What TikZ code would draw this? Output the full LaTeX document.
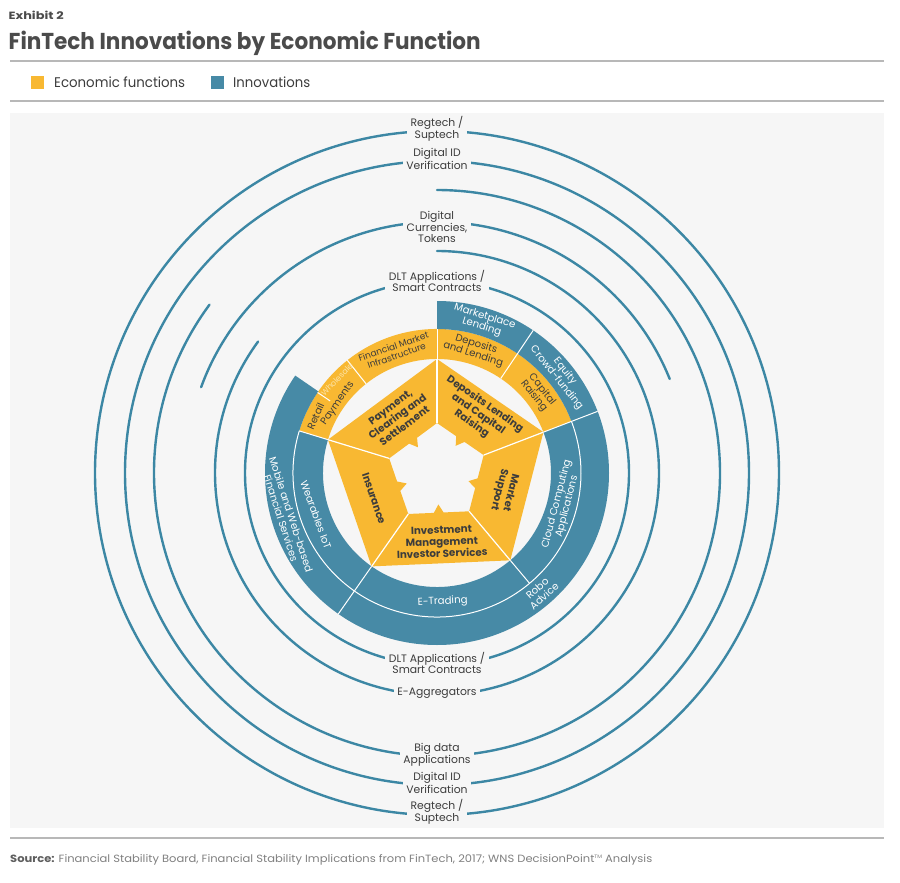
\documentclass[tikz,border=0pt]{standalone}
\usepackage{fontspec}
\usepackage{graphicx}
\setmainfont{Poppins}
\definecolor{fyellow}{HTML}{F8B832}
\definecolor{fblue}{HTML}{478AA6}
\definecolor{arcblue}{HTML}{3C87A4}
\definecolor{bggray}{HTML}{F6F6F6}
\definecolor{rulegray}{HTML}{B8B8B8}
\definecolor{txtdark}{HTML}{3C3C3C}
\definecolor{titlegray}{HTML}{4B4B4B}
\definecolor{srcgray}{HTML}{808080}
\definecolor{srcdark}{HTML}{5E5E5E}
\definecolor{palecream}{HTML}{FBE3A6}
\tikzset{
  arcline/.style={draw=arcblue, line width=2.4pt, line cap=round},
  arclabel/.style={fill=bggray, text=txtdark, font=\fontsize{10.8}{10.6}\selectfont, align=center, inner xsep=3.5pt, inner ysep=0.5pt},
  sepline/.style={draw=white, line width=1pt},
  ringw/.style={text=white, font=\fontsize{10.2}{10.6}\selectfont, align=center, inner sep=0pt},
  ringd/.style={text=txtdark, font=\fontsize{10}{10.4}\selectfont, align=center, inner sep=0pt},
  pentxt/.style={text=txtdark, font=\bfseries\fontsize{10.3}{11.8}\selectfont, align=center, inner sep=0pt},
  rulestyle/.style={draw=rulegray, line width=1.6pt},
}
\begin{document}
\begin{tikzpicture}[x=1pt,y=-1pt]
\useasboundingbox (0,0) rectangle (900,883);
\fill[white] (0,0) rectangle (900,883);
\fill[bggray] (10,113) rectangle (884,828);
\draw[rulestyle] (10,61) -- (884,61);
\draw[rulestyle] (10,101) -- (884,101);
\draw[rulestyle] (10,838) -- (884,838);

% header
\node[anchor=base west, inner sep=0pt, text=titlegray] (exhibit) at (8.5,19.3)
  {\resizebox{55pt}{\height}{\bfseries\fontsize{10.5}{12}\selectfont Exhibit 2}};
\node[anchor=base west, inner sep=0pt, text=titlegray] (title) at (8.5,49.3)
  {\resizebox{472pt}{\height}{\bfseries\fontsize{23}{26}\selectfont FinTech Innovations by Economic Function}};
\fill[fyellow] (31,76) rectangle (44,89);
\node[anchor=base west, inner sep=0pt, text=txtdark] (legy) at (54,88)
  {\resizebox{131pt}{\height}{\fontsize{14}{16}\selectfont Economic functions}};
\fill[fblue] (211,76) rectangle (224,89);
\node[anchor=base west, inner sep=0pt, text=txtdark] (legb) at (233,88)
  {\resizebox{77pt}{\height}{\fontsize{14}{16}\selectfont Innovations}};
\node[anchor=base west, inner sep=0pt, text=srcgray] (source) at (10,862)
  {\resizebox{642pt}{\height}{\fontsize{10.5}{12}\selectfont{\color{srcdark}\bfseries Source:} Financial Stability Board, Financial Stability Implications from FinTech, 2017; WNS DecisionPoint\raisebox{0.6ex}{\fontsize{5}{5}\selectfont TM} Analysis}};

% innovation arcs
\begin{scope}[shift={(437,473)}, y=1pt]
  \draw[arcline] (0,0) circle[radius=342];
  \draw[arcline] (0,0) circle[radius=312];
  \draw[arcline] (143.5:283) arc[start angle=143.5, end angle=450, radius=283];
  \draw[arcline] (22:251) arc[start angle=22, end angle=160, radius=251];
  \draw[arcline] (143.7:222) arc[start angle=143.7, end angle=450, radius=222];
  \draw[arcline] (0,0) circle[radius=192];
\end{scope}

% arc labels
\node[arclabel] (t1) at (437,129) {Regtech /\\Suptech};
\node[arclabel] (t2) at (437,159) {Digital ID\\Verification};
\node[arclabel] (t3) at (437,227) {Digital\\Currencies,\\Tokens};
\node[arclabel] (t4) at (437,281) {DLT Applications /\\Smart Contracts};
\node[arclabel] (b1) at (437,663) {DLT Applications /\\Smart Contracts};
\node[arclabel] (b2) at (437,693) {E-Aggregators};
\node[arclabel] (b3) at (437,755) {Big data\\Applications};
\node[arclabel] (b4) at (437,783) {Digital ID\\Verification};
\node[arclabel] (b5) at (437,812) {Regtech /\\Suptech};

% rings and pentagon
\begin{scope}[shift={(437,473)}, y=1pt]
  \fill[fyellow] (21:114) arc[start angle=21, end angle=163, radius=114] -- (163:144) arc[start angle=163, end angle=21, radius=144] -- cycle;
  \fill[fblue] (163:114) arc[start angle=163, end angle=381, radius=114] -- (381:144) arc[start angle=381, end angle=163, radius=144] -- cycle;
  \fill[fblue] (145.5:144) arc[start angle=145.5, end angle=450, radius=144] -- (450:172) arc[start angle=450, end angle=145.5, radius=172] -- cycle;
  \draw[sepline] (163:144) arc[start angle=163, end angle=381, radius=144];
  \draw[sepline] (90:114) -- (90:144);
  \draw[sepline] (56:114) -- (56:172);
  \draw[sepline] (21:114) -- (21:172);
  \draw[sepline] (-50:114) -- (-50:144);
  \draw[sepline] (-125:114) -- (-125:172);
  \draw[sepline] (163:114) -- (163:144);
  \draw[sepline] (128.5:114) -- (128.5:144);
  \draw[sepline] (146:129) -- (146:144);

  % pentagon sectors
  \fill[fyellow] (90:114) -- (163:114) -- (163:50) -- (133.5:40.5) -- (126.5:32) -- (119.5:40.5) -- (90:50) -- cycle;
  \fill[fyellow] (21:114) -- (90:114) -- (90:50) -- (62.5:41.5) -- (55.5:33) -- (48.5:41.5) -- (21:50) -- cycle;
  \fill[fyellow] (-50:114) -- (21:114) -- (21:50) -- (-7.5:41) -- (-14.5:32.5) -- (-21.5:41) -- (-50:50) -- cycle;
  \fill[fyellow] (-125:114) -- (-50:114) -- (-50:50) -- (-80.5:40) -- (-87.5:31.5) -- (-94.5:40) -- (-125:50) -- cycle;
  \fill[fyellow] (163:114) -- (235:114) -- (235:50) -- (206:40.8) -- (199:32) -- (192:40.8) -- (163:50) -- cycle;
  \foreach \a in {90,21,-50,-125,163} \draw[sepline, line width=1.2pt] (\a:50) -- (\a:114);

  % pentagon texts
  \node[pentxt, rotate=36.5] (p1) at (125:69) {Payment,\\Clearing and\\Settlement};
  \node[pentxt, rotate=-34.5] (p2) at (55:72) {Deposits Lending\\and Capital\\Raising};
  \node[pentxt, rotate=-104.5] (p3) at (-15:70) {Market\\Support};
  \node[pentxt, rotate=2] (p4) at (-86:69) {Investment\\Management\\Investor Services};
  \node[pentxt, rotate=-71] (p5) at (202:68) {Insurance};

  % inner ring texts
  \node[ringd, rotate=-17] (r1) at (73:129) {Deposits\\and Lending};
  \node[ringd, rotate=-51.5] (r2) at (38.5:129) {Capital\\Raising};
  \node[ringd, rotate=19, font=\fontsize{9}{9.6}\selectfont] (r3) at (109:129) {Financial Market\\Infrastructure};
  \node[ringd, rotate=46, text=palecream, font=\fontsize{8}{8.5}\selectfont] (r4) at (137:137) {Wholesale};
  \node[ringd, rotate=66] (r5) at (155:134) {Retail};
  \node[ringd, rotate=55] (r6) at (145:121) {Payments};
  \node[ringw, rotate=75.5] (r7) at (-14.5:129) {Cloud Computing\\Applications};
  \node[ringw, rotate=2.5] (r8) at (-87.5:129) {E-Trading};
  \node[ringw, rotate=-70] (r9) at (199:128) {Wearables IoT};

  % outer ring texts
  \node[ringw, rotate=-17] (o1) at (73:158) {Marketplace\\Lending};
  \node[ringw, rotate=-51.5] (o2) at (38.5:158) {Equity\\Crowd-funding};
  \node[ringw, rotate=41] (o3) at (-49:158) {Robo\\Advice};
  \node[ringw, rotate=-72] (o4) at (196:157) {Mobile and Web-based\\Financial Services};
\end{scope}
\end{tikzpicture}
\end{document}
